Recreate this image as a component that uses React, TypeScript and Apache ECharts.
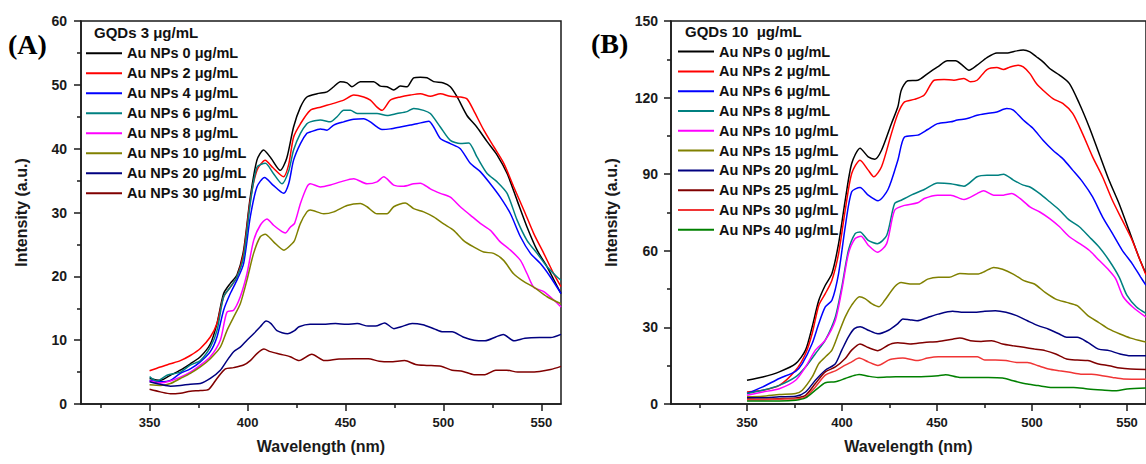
import React, { useEffect, useRef } from 'react';
import * as echarts from 'echarts';

const FONT = '"Liberation Sans", Arial, Helvetica, sans-serif';
const SERIF = '"Liberation Serif", "Times New Roman", serif';
const INK = '#1a1a1a';

// ---------- tick values ----------
const X_MAJOR = [350, 400, 450, 500, 550];
const X_MINOR = [325, 375, 425, 475, 525];

// ---------- panel A (GQDs 3 µg/mL) ----------
const A_TITLE = 'GQDs 3 \u03bcg/mL';
const A_LABELS = [
  'Au NPs 0 \u03bcg/mL', 'Au NPs 2 \u03bcg/mL', 'Au NPs 4 \u03bcg/mL', 'Au NPs 6 \u03bcg/mL',
  'Au NPs 8 \u03bcg/mL', 'Au NPs 10 \u03bcg/mL', 'Au NPs 20 \u03bcg/mL', 'Au NPs 30 \u03bcg/mL',
];
const A_COLORS = ['#000000', '#ff0000', '#0000ff', '#008080', '#ff00ff', '#808000', '#000080', '#800000'];

const A_0 = [[350,4.0],[355.5,3.7],[360.6,4.5],[365.7,5.3],[370.8,6.3],[375.9,7.4],[381,9.4],[384.4,12.6],[387.8,17.3],[391.2,18.9],[394.6,20.2],[398,24.1],[401.4,32.4],[404.8,38.2],[408.2,39.8],[412,38.5],[416.7,36.6],[420,38.5],[423.5,43.4],[427,46.5],[430.3,48.1],[435.5,48.6],[440.6,48.9],[444,49.7],[447.4,50.5],[450.8,50.3],[453.3,49.7],[457.6,50.5],[461,50.5],[464.4,50.5],[467.8,49.8],[471.2,49.7],[474.6,49.2],[478,49.8],[481.4,49.7],[484.8,51.1],[488.2,51.2],[491.6,51.1],[495,50.5],[500,50.3],[503.5,49.7],[507,48.1],[512,45.2],[517,43.4],[522.3,41.1],[527.4,39],[532.5,36.1],[537.6,31.9],[542.7,27.7],[547.8,24.1],[552.9,21.5],[556.3,19.5],[560,17.3]];
const A_2 = [[350,5.2],[355.5,5.8],[360.6,6.3],[365.7,6.8],[370.8,7.6],[375.9,8.7],[381,10.5],[384.4,12.6],[387.8,16.8],[391.2,18.3],[394.6,19.9],[398,23.6],[401.4,31.9],[404.8,36.6],[409,38.2],[413,37],[418.4,35.6],[421,37.5],[423.5,41.8],[427,43.9],[432,46],[437.2,46.5],[444,47.1],[449.1,47.6],[454.2,48.4],[459.3,48.1],[462.7,47.6],[466.1,46.5],[468.6,46],[472.9,47.6],[478,48.1],[483.1,48.4],[488.2,48.6],[493.3,48.2],[498.4,48.6],[503.5,48.2],[508.6,48.1],[512,47.8],[515.4,46],[520.6,42.9],[525.7,40.3],[530.8,37.7],[535.9,34],[541,30.4],[546.1,26.7],[551.2,23.6],[556.3,20.4],[560,18.4]];
const A_4 = [[350,3.7],[355.5,3.5],[360.6,3.7],[365.7,4.8],[370.8,5.5],[375.9,6.6],[381,8.2],[384.4,10.5],[387.8,14.7],[391.2,17.3],[394.6,19.4],[398,22],[401.4,29.3],[404.8,34],[408.7,35.5],[413,34.3],[418.4,33],[421,34.5],[423.5,38.2],[427,40.8],[430.3,42.4],[432,42.6],[437.2,43.1],[440.6,42.9],[444,43.7],[449.1,44.2],[454.2,44.6],[459.3,44.7],[462.7,44.2],[466.1,43.4],[468.6,43],[472.9,43.1],[478,43.4],[483.1,43.7],[486.5,43.9],[492.5,44.3],[495,43.4],[498.4,41.6],[503.5,40.8],[508.6,40],[513.7,37.7],[518.8,36.4],[523.9,34.5],[529,32.4],[534.2,29.8],[539.3,26.2],[544.4,23.6],[549.5,22],[554.6,19.9],[560,17.3]];
const A_6 = [[350,4.3],[353.8,3.6],[358.9,4.5],[365.7,5],[370.8,6.1],[375.9,6.8],[381,8.9],[384.4,11.5],[387.8,16.8],[391.2,18.3],[394.6,19.9],[398,23],[401.4,31.4],[404.8,37.1],[409.1,37.7],[413,36.2],[417.6,34.5],[421,36.5],[423.5,39.8],[427,42.4],[430.3,43.9],[432,44.2],[437.2,44.5],[442.3,44.2],[445.7,45],[449.1,46],[452.5,46],[455.9,45.5],[461,45.5],[466.1,45.5],[471.2,45.2],[476.3,45.5],[481.4,45.8],[484.8,46.3],[489.9,46],[493.3,45.5],[498.4,43.4],[503.5,41.3],[508.6,40.8],[512.9,40.9],[517.1,38.7],[522.3,36.1],[527.4,34.8],[532.5,33],[537.6,28.8],[542.7,25.6],[547.8,23.6],[552.9,21.5],[558,19.9],[560,19.4]];
const A_8 = [[350,3.6],[355.5,3.3],[360.6,3.6],[365.7,4.2],[370.8,5],[375.9,6.1],[381,7.4],[386.1,10],[389.5,14.4],[392.9,14.7],[396.3,16.8],[399.7,20.4],[403.1,25.6],[406.5,28],[409.9,29],[413.3,28],[417.6,27],[419.3,26.8],[421.8,27.7],[424,28.3],[427,31.4],[430.3,34],[432,34.5],[437.2,34],[442.3,34.3],[447.4,34.8],[454.2,35.3],[461,34.5],[466.1,34.8],[469.5,35.6],[474.6,34.3],[479.7,34.1],[484.8,34.5],[488.2,34.6],[493.3,33.7],[498.4,33],[503.5,32.4],[508.6,30.9],[513.7,29.6],[518.8,28.3],[524,27.2],[529,25.4],[534.2,24.1],[539.3,22.5],[542.7,20.4],[546.1,18.3],[551.2,17.6],[556.3,16.3],[560,15.2]];
const A_10 = [[350,3.0],[355.5,2.9],[360.6,3.2],[365.7,4.0],[370.8,4.8],[375.9,5.8],[381,7.1],[386.1,8.9],[389.5,11.5],[392.9,13.6],[396.3,15.7],[399.7,19.4],[403.1,23.6],[406.5,26.2],[409,26.6],[413.3,25.4],[418.6,24.1],[422.7,25.1],[424,25.6],[427,28.3],[430.3,30.1],[432,30.4],[438.9,29.8],[444,30.1],[450.8,31.1],[457.6,31.4],[461,30.9],[466.1,29.8],[471.2,29.8],[474.6,30.9],[480.5,31.5],[484.8,30.6],[489.9,30.1],[495,29.3],[500.1,28.2],[505.2,27.2],[510.3,25.6],[515.4,24.6],[520.5,23.8],[525.6,23.6],[530.7,22.5],[535.8,20.4],[540.9,19.2],[546.1,18.3],[552.9,16.8],[560,15.7]];
const A_20 = [[350,3.5],[355.5,3.1],[360.6,2.8],[365.7,2.9],[370.8,3.1],[375.9,3.2],[381,4],[386.1,5.3],[389.5,6.8],[392.9,8.2],[396.3,8.9],[399.7,10],[403.1,11],[406.5,12.1],[409.5,13],[412,12.6],[415,11.5],[420.4,11],[424,11.5],[426.3,12.1],[431.9,12.5],[437.4,12.5],[444.9,12.6],[450.5,12.5],[456,12.6],[461.6,12.2],[465.3,12.2],[470,12.7],[474.7,11.8],[478.4,12.1],[484,12.6],[489.5,12.4],[495.1,11.8],[499.8,11.3],[504.4,11.3],[510,10.5],[515.6,10],[521.2,9.9],[526.7,10.5],[530.5,10.9],[536,9.9],[541.6,10.3],[549,10.4],[554.7,10.4],[560,10.9]];
const A_30 = [[350,2.3],[355.5,1.9],[360.6,1.6],[365.7,1.7],[370.8,2.0],[375.9,2.1],[380.2,2.3],[384.4,4.0],[388.7,5.5],[392.9,5.7],[398,6.1],[401.4,6.8],[404.8,7.9],[408.4,8.6],[411.6,8.2],[416.7,7.8],[421.8,7.4],[426.3,6.8],[432.8,7.8],[439.3,6.8],[446.7,7.05],[454.2,7.1],[461.6,7.1],[467.2,6.7],[472.8,6.6],[480.2,6.8],[485.8,6.2],[491.4,6.05],[498.8,5.9],[504.4,5.3],[510,5.1],[515.6,4.6],[521.2,4.6],[526.7,5.3],[532.3,5.3],[537.9,5.0],[543.5,5.0],[549.1,5.1],[554.7,5.4],[560,5.9]];
const A_DATA = [A_0, A_2, A_4, A_6, A_8, A_10, A_20, A_30];

// ---------- panel B (GQDs 10 µg/mL) ----------
const B_TITLE = 'GQDs 10  \u03bcg/mL';
const B_LABELS = [
  'Au NPs 0 \u03bcg/mL', 'Au NPs 2 \u03bcg/mL', 'Au NPs 6 \u03bcg/mL', 'Au NPs 8 \u03bcg/mL',
  'Au NPs 10 \u03bcg/mL', 'Au NPs 15 \u03bcg/mL', 'Au NPs 20 \u03bcg/mL', 'Au NPs 25 \u03bcg/mL',
  'Au NPs 30 \u03bcg/mL', 'Au NPs 40 \u03bcg/mL',
];
const B_COLORS = ['#000000', '#ff0000', '#0000ff', '#008080', '#ff00ff', '#808000', '#000080', '#800000', '#f03535', '#008000'];

const B_0 = [[350,9.3],[358.3,10.6],[367,12.6],[375.6,15.8],[380.8,21.1],[384.3,30.2],[387.8,40.6],[391.2,46.5],[394.7,51.1],[398.2,62.8],[401.7,79.8],[405.1,94.2],[409.5,100.2],[413.8,96.8],[417.3,95.9],[420.8,99.4],[426,109.8],[429.4,116.4],[431.2,122.9],[434.6,126.6],[439.9,126.8],[445.1,129.4],[450.3,132],[455.5,134.4],[459.8,134.4],[463.3,132.7],[466.8,130.7],[471.1,132.7],[476.3,135.7],[481.5,137.5],[486.7,137.5],[491.9,138.3],[495.4,138.6],[498.9,137.9],[502.3,136],[505.8,134],[509.3,131.4],[514.5,128.8],[519.7,125.5],[524.9,117.7],[530.1,108.5],[535.3,98.1],[540.5,87.7],[545.8,78.5],[551,68.1],[556.2,57.6],[560,51]];
const B_2 = [[350,4.7],[358.3,5.4],[367,7.3],[375.6,13.2],[380.8,19.7],[384.3,27.6],[387.8,38.7],[391.2,43.2],[394.7,48.5],[398.2,58.9],[401.7,75.9],[405.1,90.3],[409.5,95.5],[413.8,91.6],[416.7,89],[420.8,92.9],[426,105.9],[429.4,113.7],[432.9,118.3],[438.1,119.3],[443.3,121],[448.5,126.8],[453.7,127.1],[458.9,126.8],[464.2,127.5],[467.6,126.2],[471.1,126.8],[476.3,131],[481.5,131.8],[485,131],[488.5,132],[492.8,132.7],[495.4,132],[498.9,129.4],[502.3,125.5],[505.8,122.9],[511,119.6],[516.2,117.7],[521.4,113.8],[526.6,105.9],[531.9,96.8],[537.1,89],[542.3,79.8],[547.5,72],[552.7,64.2],[556.2,57.6],[560,50.5]];
const B_6 = [[350,4.1],[358.3,6.7],[367,10],[375.6,12.8],[379.1,15.8],[384.3,23.7],[387.8,31.5],[391.2,38],[394.7,40.6],[398.2,51.1],[401.7,69.4],[405.1,83.1],[409.5,84.8],[413.8,81.8],[419,79.6],[424.2,84],[429.4,95.5],[432.9,104.6],[439.9,105.3],[445.1,107.5],[450.3,109.8],[457.2,110.5],[460.7,111.2],[465.9,111.8],[471.1,113.1],[476.3,113.8],[481.5,114.4],[486.7,115.7],[490.2,115.1],[495.4,111.2],[500.6,107.9],[505.8,103.3],[511,99.4],[516.2,96.1],[521.4,91.6],[526.6,87],[531.9,81.1],[537.1,73.3],[542.3,66.8],[547.5,60.2],[552.7,55],[557.1,49.8],[560,46.5]];
const B_8 = [[350,4.1],[358.3,5.4],[367,7.3],[375.6,10.6],[380.8,14.5],[386,19.7],[391.2,25],[396.5,34.1],[399.9,45.9],[403.4,60.2],[406.9,66.7],[409.5,67.4],[413.8,64.1],[418.6,62.8],[423.5,66],[427.7,78.5],[431.2,79.8],[436.4,81.8],[443.3,84],[450.3,86.6],[457.2,86.3],[464.2,85.3],[471.1,89],[476.3,89.6],[481.5,89.6],[485,90],[490.2,87.7],[495.4,85.7],[498.9,85],[504.1,82.4],[509.3,79.2],[514.5,75.9],[519.7,72],[524.9,69.4],[530.1,65.5],[535.3,61.5],[540.5,56.3],[545.8,49.8],[550,42.5],[555,38],[560,35.5]];
const B_10 = [[350,3.4],[358.3,4.7],[367,6.0],[375.6,9.3],[380.8,14.5],[386,21.1],[391.2,25],[396.5,32.8],[399.9,44.6],[403.4,58.9],[406.9,64.8],[410,65.7],[413.8,62.2],[418.7,59.4],[423.5,62.8],[427.7,75.9],[432.9,77.8],[439.9,78.8],[443.3,80.5],[450.3,81.8],[457.2,81.8],[464.2,80.1],[471.1,82.4],[474.5,83.5],[479.8,81.8],[485,81.8],[489.3,82.4],[493.7,80.5],[498.9,77.2],[504.1,75.2],[509.3,72.6],[514.5,69.4],[519.7,65.5],[524.9,62.9],[530.1,60.2],[535.3,56.3],[540.5,52.4],[544,49.1],[548,42],[553,38],[560,34]];
const B_15 = [[350,2.8],[358.3,3.0],[367,3.7],[375.6,4.1],[379.1,5.4],[384.3,10.6],[387.8,15.8],[391.2,18.4],[394.7,21.1],[398.2,27.6],[401.7,34.1],[405.1,38.7],[409.2,42],[412.1,41.3],[415.6,39.3],[419.5,38.1],[422.5,40.6],[427.7,45.9],[431.1,47.6],[435.8,47],[440.4,47],[445.1,48.9],[450.7,49.6],[456.4,49.6],[462,51.1],[467.6,50.9],[471.3,50.9],[475.1,51.9],[479.8,53.5],[484.5,52.8],[490.1,50.9],[495.7,48.3],[501.3,47],[506.9,43.7],[512.5,41.1],[518.2,39.8],[523.8,38.5],[529.4,34.6],[535,32],[540.6,29.3],[546.3,27.4],[551.9,25.8],[557.1,24.8],[560,24.3]];
const B_20 = [[350,2.4],[358.3,2.4],[367,2.8],[375.6,3.0],[380.8,4.7],[386,9.3],[391.2,13.2],[396.5,15.8],[399.9,21.1],[403.4,26.3],[406.5,29.5],[409.6,30.3],[413.8,28.9],[418.9,27.5],[424.5,28.9],[429.4,31.5],[432,33.3],[435.5,33.0],[439.5,32.6],[445.1,33.9],[450.7,35.2],[458.2,36.3],[463.9,35.9],[469.5,35.9],[475.1,36.3],[480.7,36.5],[486.3,35.9],[491.9,34.6],[497.6,32.6],[503.2,30.7],[508.8,29.3],[514.4,27.4],[518.2,26.1],[523.8,26.1],[529.4,24.1],[535,21.5],[540.6,20.9],[546.3,19.6],[551.9,18.9],[560,18.9]];
const B_25 = [[350,2.0],[358.3,1.9],[367,2.1],[375.6,2.4],[380.8,3.4],[386,8.0],[391.2,12.6],[396.5,14.5],[401.7,17.8],[405.1,21.1],[409.5,23.5],[413.8,22.1],[418.9,20.9],[424.2,23],[426.4,23.7],[429.4,24],[435.8,23.5],[443.3,24.1],[450.7,24.5],[458.2,25.4],[462,25.8],[467.6,24.8],[473.2,24.5],[478.8,24.8],[484.5,23.5],[490.1,22.8],[495.7,22.2],[501.3,21.5],[506.9,20.9],[512.5,19.6],[518.2,17.6],[523.8,17.2],[529.4,17],[535,15.7],[540.6,15],[546.3,14.1],[551.9,13.7],[560,13.5]];
const B_30 = [[350,1.7],[358.3,1.7],[367,1.9],[375.6,2.0],[380.8,2.8],[386,6.7],[391.2,11.3],[396.5,13],[401.7,15.2],[405.1,16.5],[409,18],[413.8,16.5],[418.9,15.1],[424.2,17.1],[426.4,17.6],[432,18],[439.5,17],[445.1,18],[450.7,18.5],[458.2,18.5],[465.7,18.5],[471.3,18.5],[475.1,17.2],[480.7,17.2],[486.3,17],[491.9,16.3],[497.6,16.3],[503.2,15],[508.8,13.7],[514.4,13],[520,12.4],[525.7,11.7],[531.3,11.7],[536.9,11.1],[542.5,10.4],[548.1,9.8],[560,9.7]];
const B_40 = [[350,1.2],[367,1.2],[375.6,1.5],[380.8,2.4],[386,5.4],[391.2,8.3],[396.5,8.7],[401.7,10],[405.1,10.9],[409,11.6],[413.8,10.9],[418.9,10.4],[428.3,10.7],[439.5,10.7],[450.7,11.1],[454.5,11.5],[462,10.4],[469.5,10.4],[477,10.4],[484.5,10.2],[490.1,9.1],[497.6,7.8],[503.2,7.2],[510.7,6.5],[516.3,6.5],[521.9,6.5],[529.4,5.9],[536.9,5.5],[544.4,5.2],[550,5.9],[560,6.3]];
const B_DATA = [B_0, B_2, B_6, B_8, B_10, B_15, B_20, B_25, B_30, B_40];

const stripPrefix = (name: string) => name.replace(/^[AB]:/, '');

function makeSeries(prefix: string, labels: string[], colors: string[], data: number[][][], xIdx: number, yIdx: number) {
  return labels.map((label, i) => ({
    type: 'line',
    name: `${prefix}:${label}`,
    xAxisIndex: xIdx,
    yAxisIndex: yIdx,
    data: data[i],
    showSymbol: false,
    symbol: 'none',
    smooth: 0.25,
    lineStyle: { color: colors[i], width: 1.5 },
    itemStyle: { color: colors[i] },
    emphasis: { disabled: true },
  }));
}

function xAxes(gridIndex: number, min: number) {
  const lineStyle = { color: INK, width: 1.5 };
  return [
    {
      gridIndex, type: 'value', min, max: 560, position: 'bottom',
      axisLine: { show: true, onZero: false, lineStyle },
      axisTick: { show: true, length: 7, customValues: X_MAJOR, lineStyle },
      axisLabel: { customValues: X_MAJOR, margin: 12, fontSize: 13, fontWeight: 'bold', fontFamily: FONT, color: INK },
      splitLine: { show: false },
      name: 'Wavelength (nm)', nameLocation: 'middle', nameGap: 34,
      nameTextStyle: { fontSize: 16, fontWeight: 'bold', fontFamily: FONT, color: INK },
    },
    {
      gridIndex, type: 'value', min, max: 560, position: 'bottom',
      axisLine: { show: false, onZero: false },
      axisTick: { show: true, length: 4, customValues: X_MINOR, lineStyle },
      axisLabel: { show: false },
      splitLine: { show: false },
    },
  ];
}

function yAxis(gridIndex: number, max: number, interval: number, margin: number) {
  const lineStyle = { color: INK, width: 1.5 };
  return {
    gridIndex, type: 'value', min: 0, max, interval, position: 'left',
    axisLine: { show: true, onZero: false, lineStyle },
    axisTick: { show: true, length: 7, lineStyle },
    minorTick: { show: true, splitNumber: 2, length: 4, lineStyle },
    axisLabel: { margin, fontSize: 14, fontWeight: 'bold', fontFamily: FONT, color: INK },
    splitLine: { show: false },
    minorSplitLine: { show: false },
    name: 'Intensity (a.u.)', nameLocation: 'middle', nameGap: 52, nameRotate: 90,
    nameTextStyle: { fontSize: 16, fontWeight: 'bold', fontFamily: FONT, color: INK },
  };
}

function legend(prefix: string, labels: string[], left: number, top: number, lh: number) {
  return {
    orient: 'vertical', left, top, padding: 0, itemGap: 0,
    itemWidth: 36, itemHeight: 2, icon: 'rect', selectedMode: false,
    data: labels.map((l) => `${prefix}:${l}`),
    formatter: stripPrefix,
    textStyle: { fontSize: 14.5, fontWeight: 'bold', fontFamily: FONT, color: '#111', lineHeight: lh },
  };
}

export default function App() {
  const ref = useRef<HTMLDivElement>(null);
  useEffect(() => {
    if (!ref.current) return;
    const chart = echarts.init(ref.current, undefined, { renderer: 'svg' });
    const gridStyle = { show: true, borderColor: INK, borderWidth: 1.5, backgroundColor: 'transparent' };
    chart.setOption({
      animation: false,
      backgroundColor: '#ffffff',
      grid: [
        { left: 81, top: 21, width: 480, height: 383, ...gridStyle },
        { left: 671, top: 21, width: 480, height: 383, ...gridStyle },
      ],
      xAxis: [...xAxes(0, 315), ...xAxes(1, 310)],
      yAxis: [yAxis(0, 60, 10, 14), yAxis(1, 150, 30, 13)],
      legend: [legend('A', A_LABELS, 86, 43.3, 20), legend('B', B_LABELS, 678, 41.7, 19.8)],
      graphic: [
        { type: 'text', left: 8, top: 30, style: { text: '(A)', font: `bold 28px ${SERIF}`, fill: '#000' } },
        { type: 'text', left: 591, top: 29, style: { text: '(B)', font: `bold 28px ${SERIF}`, fill: '#000' } },
        { type: 'text', left: 94, top: 25, style: { text: A_TITLE, font: `bold 15px ${FONT}`, fill: '#111' } },
        { type: 'text', left: 685, top: 24, style: { text: B_TITLE, font: `bold 15px ${FONT}`, fill: '#111' } },
      ],
      series: [
        ...makeSeries('A', A_LABELS, A_COLORS, A_DATA, 0, 0),
        ...makeSeries('B', B_LABELS, B_COLORS, B_DATA, 2, 1),
      ],
    });
    return () => chart.dispose();
  }, []);
  return (
    <div
      ref={ref}
      style={{ position: 'fixed', left: 0, top: 0, width: 1146, height: 464, background: '#fff' }}
    />
  );
}
